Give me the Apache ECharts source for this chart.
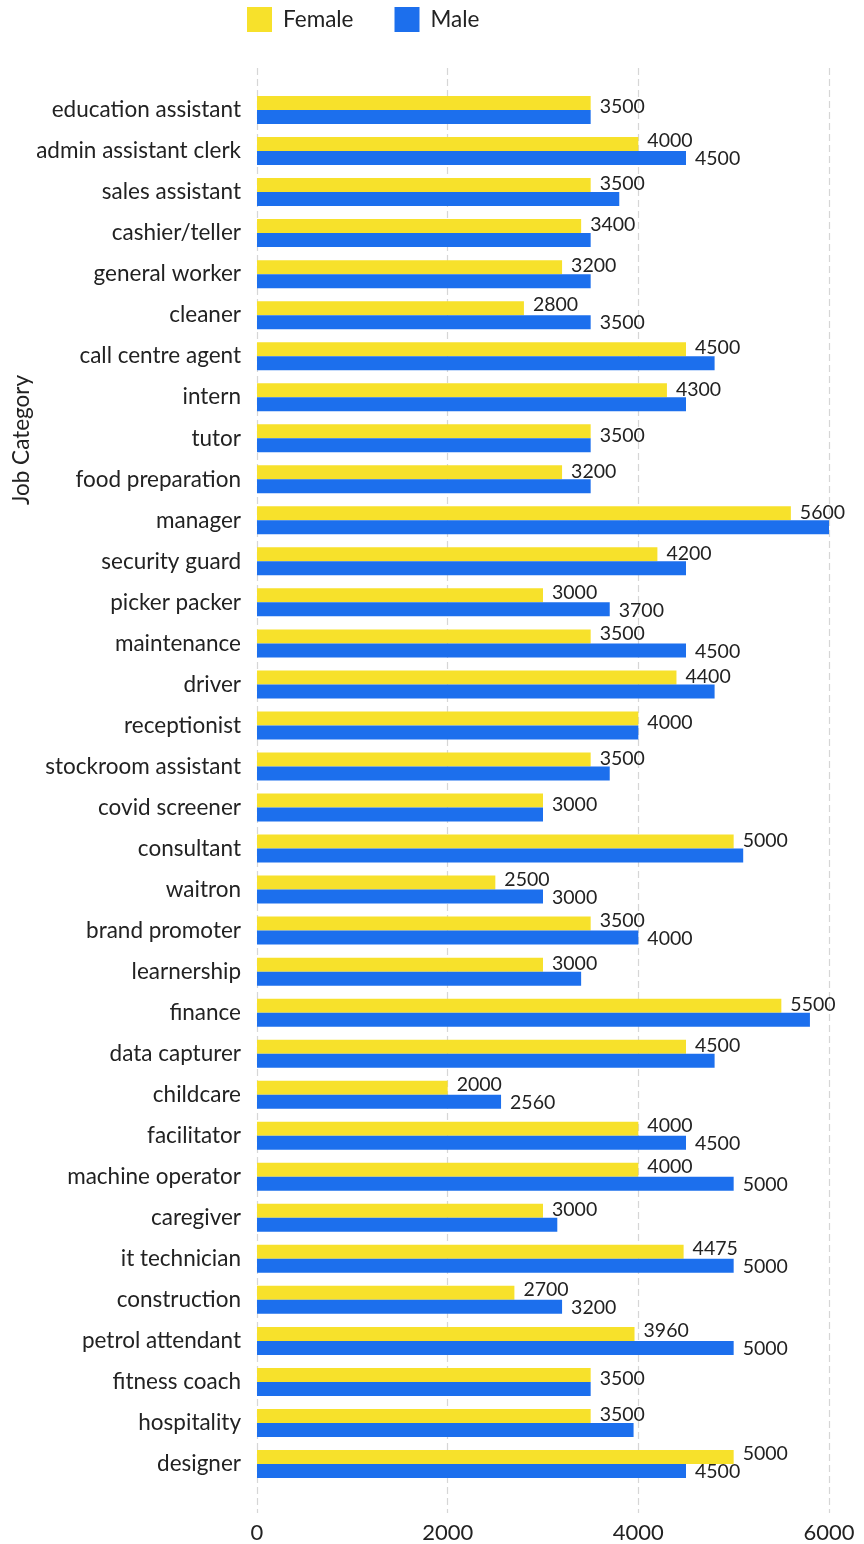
<!DOCTYPE html>
<html>
<head>
<meta charset="utf-8">
<script src="https://cdn.jsdelivr.net/npm/echarts@6/dist/echarts.min.js"></script>
<style>
html,body{margin:0;padding:0;background:#fff;}
#chart{width:864px;height:1544px;}
</style>
</head>
<body>
<div id="chart"></div>
<script>
const categories = [
  "education assistant","admin assistant clerk","sales assistant","cashier/teller","general worker",
  "cleaner","call centre agent","intern","tutor","food preparation","manager","security guard",
  "picker packer","maintenance","driver","receptionist","stockroom assistant","covid screener",
  "consultant","waitron","brand promoter","learnership","finance","data capturer","childcare",
  "facilitator","machine operator","caregiver","it technician","construction","petrol attendant",
  "fitness coach","hospitality","designer"
];
const female = [
  3500,4000,3500,3400,3200,2800,4500,4300,3500,3200,5600,4200,
  3000,3500,4400,4000,3500,3000,5000,2500,3500,3000,5500,4500,2000,
  4000,4000,3000,4475,2700,3960,3500,3500,5000
];
const male = [
  3500,4500,3800,3500,3500,3500,4800,4500,3500,3500,6000,4500,
  3700,4500,4800,4000,3700,3000,5100,3000,4000,3400,5800,4800,2560,
  4500,5000,3150,5000,3200,5000,3500,3950,4500
];
const xTicks = [0, 2000, 4000, 6000];
const seriesNames = ["Female", "Male"];

const FONT = "Lato, 'Noto Sans', sans-serif";
const TEXT = "#222";
const xMin = xTicks[0], xMax = xTicks[xTicks.length - 1], xStep = xTicks[1] - xTicks[0];

// male label is hidden when it would collide with the female label next to it
function maleLabelShown(i) {
  return !(male[i] >= female[i] && male[i] - female[i] < 480);
}

const chart = echarts.init(document.getElementById('chart'), null, {renderer: 'canvas'});
chart.setOption({
  animation: false,
  backgroundColor: '#fff',
  textStyle: {fontFamily: FONT},
  legend: {
    data: seriesNames,
    left: 247, top: 7, padding: 0,
    icon: 'rect', itemWidth: 25, itemHeight: 25, itemGap: 41,
    textStyle: {fontFamily: FONT, fontSize: 22.5, color: TEXT, padding: [0, 0, 0, 6]}
  },
  graphic: [{
    type: 'text', x: 22, y: 440, rotation: Math.PI / 2,
    style: {text: 'Job Category', fontFamily: FONT, fontSize: 22.5, fill: TEXT,
            align: 'center', verticalAlign: 'middle'}
  }],
  grid: [
    {left: 257, right: 35, top: 89.5, height: 1395, containLabel: false},
    {left: 257, right: 35, top: 68, bottom: 31, containLabel: false}
  ],
  xAxis: [
    {gridIndex: 0, type: 'value', min: xMin, max: xMax, interval: xStep,
     axisLine: {show: false}, axisTick: {show: false}, axisLabel: {show: false}, splitLine: {show: false}},
    {gridIndex: 1, type: 'value', min: xMin, max: xMax, interval: xStep, position: 'bottom',
     axisLine: {show: false}, axisTick: {show: false},
     axisLabel: {fontFamily: FONT, fontSize: 22, color: TEXT, margin: 9,
                 formatter: function (v) { return String(v); }},
     splitLine: {show: true, lineStyle: {color: '#d6d6d6', width: 1.2, type: [7, 4]}}}
  ],
  yAxis: [
    {gridIndex: 0, type: 'category', data: categories, inverse: true,
     axisLine: {show: false}, axisTick: {show: false},
     axisLabel: {fontFamily: FONT, fontSize: 22.5, color: TEXT, margin: 16}},
    {gridIndex: 1, type: 'value', show: false}
  ],
  series: [
    {
      name: seriesNames[0], type: 'bar', xAxisIndex: 0, yAxisIndex: 0,
      data: female, barWidth: 14, barGap: '0%',
      itemStyle: {color: '#f7e12b'},
      label: {show: true, position: 'right', distance: 9, fontFamily: FONT, fontSize: 19.5, color: TEXT},
      labelLayout: function (p) {
        const i = p.dataIndex;
        let dy = maleLabelShown(i) ? -3 : (male[i] === female[i] ? 4 : -1);
        return {dy: dy};
      }
    },
    {
      name: seriesNames[1], type: 'bar', xAxisIndex: 0, yAxisIndex: 0,
      data: male, barWidth: 14, barGap: '0%',
      itemStyle: {color: '#1c6fed'},
      label: {show: true, position: 'right', distance: 9, fontFamily: FONT, fontSize: 19.5, color: TEXT,
              formatter: function (p) { return maleLabelShown(p.dataIndex) ? String(p.value) : ''; }},
      labelLayout: {dy: 1}
    }
  ]
});
</script>
</body>
</html>
